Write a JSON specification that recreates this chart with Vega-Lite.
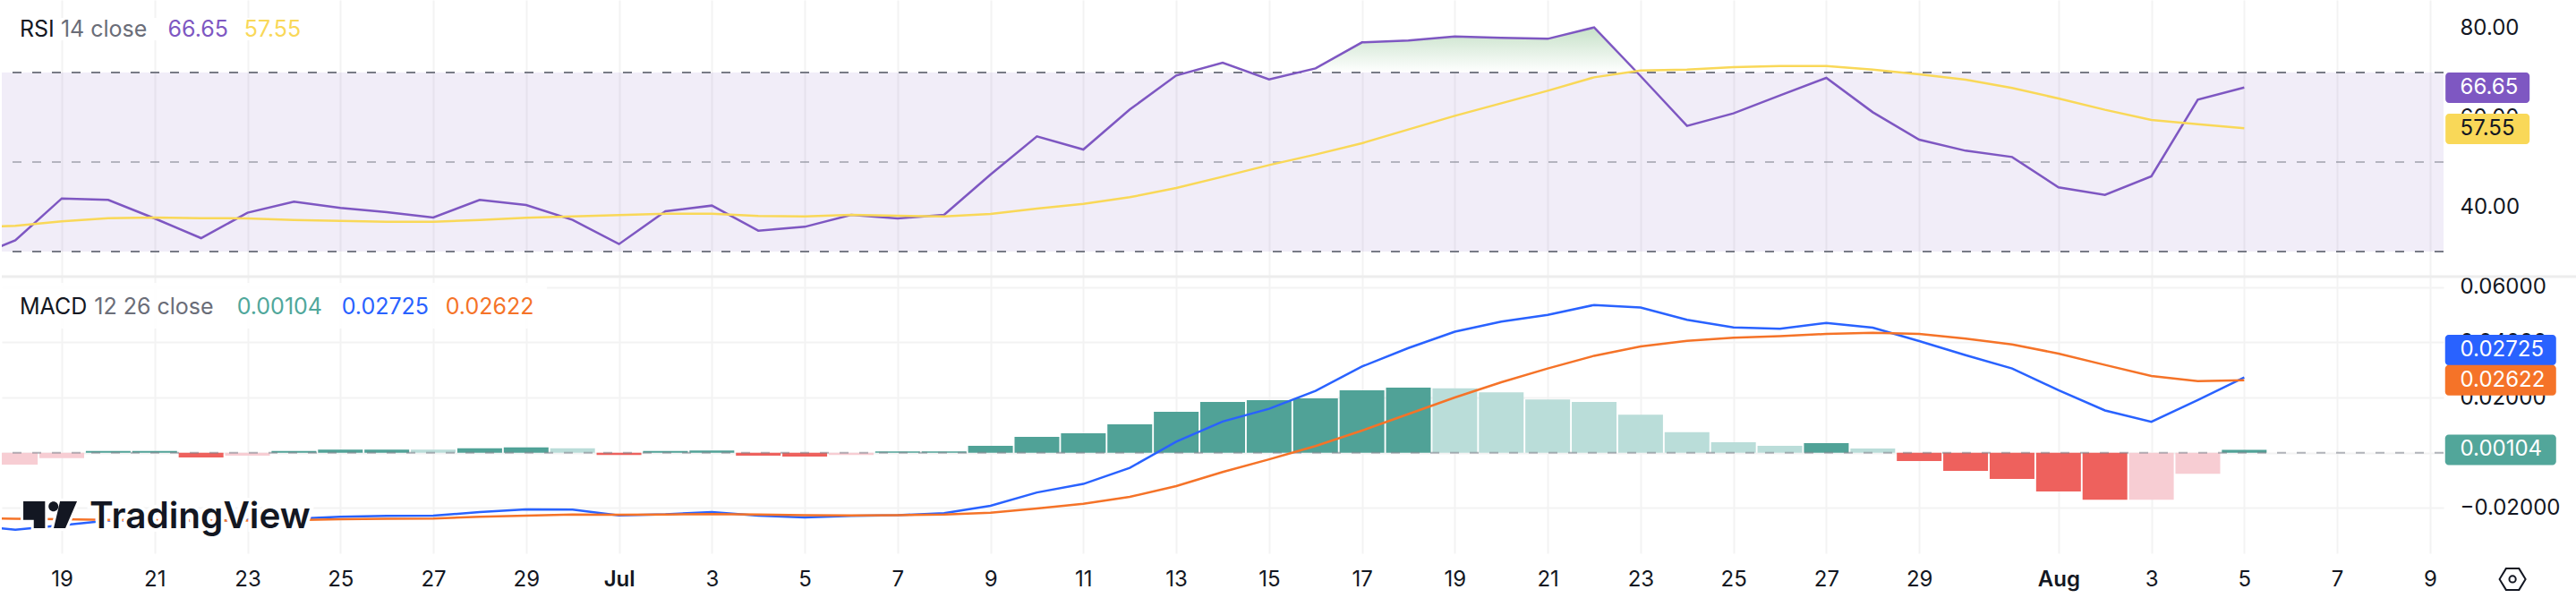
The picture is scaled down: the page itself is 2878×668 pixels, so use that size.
{
  "$schema": "https://vega.github.io/schema/vega-lite/v6.json",
  "background": "white",
  "padding": 0,
  "spacing": 0,
  "bounds": "flush",
  "resolve": {"scale": {"color": "independent"}},
  "config": {
    "view": {"stroke": null},
    "axis": {
      "domain": false,
      "ticks": false,
      "title": null,
      "gridColor": "#F3F3F3",
      "gridWidth": 2,
      "labelFont": "Inter",
      "labelFontSize": 24,
      "labelColor": "#131722",
      "labelOverlap": false
    },
    "text": {"font": "Inter", "fontSize": 24, "align": "left", "baseline": "middle"}
  },
  "datasets": {
    "daily": [
      {"date": "2024-06-17", "rsi": 28.3, "rsi_ma": 35.53, "macd": -0.0263, "signal": -0.0236},
      {"date": "2024-06-18", "rsi": 32.5, "rsi_ma": 35.73, "macd": -0.0279, "signal": -0.0239, "hist": -0.0043, "phase": "falling below"},
      {"date": "2024-06-19", "rsi": 41.87, "rsi_ma": 36.73, "macd": -0.0263, "signal": -0.0241, "hist": -0.002, "phase": "falling below"},
      {"date": "2024-06-20", "rsi": 41.53, "rsi_ma": 37.47, "macd": -0.0246, "signal": -0.0243, "hist": 0.0006, "phase": "growing above"},
      {"date": "2024-06-21", "rsi": 37.4, "rsi_ma": 37.6, "macd": -0.0246, "signal": -0.0244, "hist": 0.0006, "phase": "growing above"},
      {"date": "2024-06-22", "rsi": 33.0, "rsi_ma": 37.47, "macd": -0.0247, "signal": -0.0245, "hist": -0.0017, "phase": "growing below"},
      {"date": "2024-06-23", "rsi": 38.67, "rsi_ma": 37.4, "macd": -0.0243, "signal": -0.0246, "hist": -0.0011, "phase": "falling below"},
      {"date": "2024-06-24", "rsi": 41.13, "rsi_ma": 37.07, "macd": -0.0239, "signal": -0.0244, "hist": 0.0006, "phase": "growing above"},
      {"date": "2024-06-25", "rsi": 39.73, "rsi_ma": 36.87, "macd": -0.0232, "signal": -0.0241, "hist": 0.0011, "phase": "growing above"},
      {"date": "2024-06-26", "rsi": 38.8, "rsi_ma": 36.67, "macd": -0.0229, "signal": -0.0239, "hist": 0.0011, "phase": "growing above"},
      {"date": "2024-06-27", "rsi": 37.6, "rsi_ma": 36.67, "macd": -0.0228, "signal": -0.0238, "hist": 0.0011, "phase": "falling above"},
      {"date": "2024-06-28", "rsi": 41.53, "rsi_ma": 37.07, "macd": -0.0215, "signal": -0.0232, "hist": 0.0016, "phase": "growing above"},
      {"date": "2024-06-29", "rsi": 40.4, "rsi_ma": 37.53, "macd": -0.0205, "signal": -0.0228, "hist": 0.0019, "phase": "growing above"},
      {"date": "2024-06-30", "rsi": 37.07, "rsi_ma": 37.87, "macd": -0.0206, "signal": -0.0224, "hist": 0.0016, "phase": "falling above"},
      {"date": "2024-07-01", "rsi": 31.67, "rsi_ma": 38.13, "macd": -0.0227, "signal": -0.0225, "hist": -0.0008, "phase": "growing below"},
      {"date": "2024-07-02", "rsi": 39.0, "rsi_ma": 38.47, "macd": -0.0223, "signal": -0.0224, "hist": 0.0006, "phase": "growing above"},
      {"date": "2024-07-03", "rsi": 40.27, "rsi_ma": 38.47, "macd": -0.0215, "signal": -0.0222, "hist": 0.0008, "phase": "growing above"},
      {"date": "2024-07-04", "rsi": 34.67, "rsi_ma": 37.93, "macd": -0.0228, "signal": -0.0224, "hist": -0.0011, "phase": "growing below"},
      {"date": "2024-07-05", "rsi": 35.53, "rsi_ma": 37.87, "macd": -0.0234, "signal": -0.0226, "hist": -0.0014, "phase": "growing below"},
      {"date": "2024-07-06", "rsi": 38.2, "rsi_ma": 38.2, "macd": -0.0229, "signal": -0.0227, "hist": -0.0008, "phase": "falling below"},
      {"date": "2024-07-07", "rsi": 37.4, "rsi_ma": 38.0, "macd": -0.0226, "signal": -0.0226, "hist": 0.0005, "phase": "growing above"},
      {"date": "2024-07-08", "rsi": 38.2, "rsi_ma": 37.87, "macd": -0.0219, "signal": -0.0224, "hist": 0.0005, "phase": "growing above"},
      {"date": "2024-07-09", "rsi": 47.2, "rsi_ma": 38.4, "macd": -0.0192, "signal": -0.0217, "hist": 0.0025, "phase": "growing above"},
      {"date": "2024-07-10", "rsi": 55.73, "rsi_ma": 39.6, "macd": -0.0144, "signal": -0.0202, "hist": 0.0057, "phase": "growing above"},
      {"date": "2024-07-11", "rsi": 52.8, "rsi_ma": 40.67, "macd": -0.0113, "signal": -0.0185, "hist": 0.007, "phase": "growing above"},
      {"date": "2024-07-12", "rsi": 61.73, "rsi_ma": 42.13, "macd": -0.0055, "signal": -0.016, "hist": 0.0103, "phase": "growing above"},
      {"date": "2024-07-13", "rsi": 69.33, "rsi_ma": 44.2, "macd": 0.004, "signal": -0.0121, "hist": 0.0148, "phase": "growing above"},
      {"date": "2024-07-14", "rsi": 72.2, "rsi_ma": 46.73, "macd": 0.0113, "signal": -0.007, "hist": 0.0184, "phase": "growing above"},
      {"date": "2024-07-15", "rsi": 68.47, "rsi_ma": 49.33, "macd": 0.0159, "signal": -0.0024, "hist": 0.019, "phase": "growing above"},
      {"date": "2024-07-16", "rsi": 70.93, "rsi_ma": 51.67, "macd": 0.0224, "signal": 0.0024, "hist": 0.0197, "phase": "growing above"},
      {"date": "2024-07-17", "rsi": 76.73, "rsi_ma": 54.2, "macd": 0.0312, "signal": 0.008, "hist": 0.0226, "phase": "growing above"},
      {"date": "2024-07-18", "rsi": 77.13, "rsi_ma": 57.27, "macd": 0.0379, "signal": 0.014, "hist": 0.0236, "phase": "growing above"},
      {"date": "2024-07-19", "rsi": 78.07, "rsi_ma": 60.33, "macd": 0.0438, "signal": 0.02, "hist": 0.0233, "phase": "falling above"},
      {"date": "2024-07-20", "rsi": 77.73, "rsi_ma": 63.13, "macd": 0.0475, "signal": 0.0255, "hist": 0.0219, "phase": "falling above"},
      {"date": "2024-07-21", "rsi": 77.53, "rsi_ma": 65.93, "macd": 0.0499, "signal": 0.0305, "hist": 0.0193, "phase": "falling above"},
      {"date": "2024-07-22", "rsi": 80.07, "rsi_ma": 68.93, "macd": 0.0535, "signal": 0.0351, "hist": 0.0184, "phase": "falling above"},
      {"date": "2024-07-23", "rsi": 69.2, "rsi_ma": 70.47, "macd": 0.0526, "signal": 0.0385, "hist": 0.0138, "phase": "falling above"},
      {"date": "2024-07-24", "rsi": 58.07, "rsi_ma": 70.67, "macd": 0.0481, "signal": 0.0405, "hist": 0.0074, "phase": "falling above"},
      {"date": "2024-07-25", "rsi": 60.87, "rsi_ma": 71.2, "macd": 0.0454, "signal": 0.0416, "hist": 0.0038, "phase": "falling above"},
      {"date": "2024-07-26", "rsi": 64.87, "rsi_ma": 71.47, "macd": 0.0449, "signal": 0.0422, "hist": 0.0025, "phase": "falling above"},
      {"date": "2024-07-27", "rsi": 68.8, "rsi_ma": 71.47, "macd": 0.047, "signal": 0.043, "hist": 0.0035, "phase": "growing above"},
      {"date": "2024-07-28", "rsi": 61.13, "rsi_ma": 70.67, "macd": 0.0453, "signal": 0.0434, "hist": 0.0015, "phase": "falling above"},
      {"date": "2024-07-29", "rsi": 55.0, "rsi_ma": 69.6, "macd": 0.0404, "signal": 0.043, "hist": -0.003, "phase": "growing below"},
      {"date": "2024-07-30", "rsi": 52.53, "rsi_ma": 68.4, "macd": 0.0353, "signal": 0.0413, "hist": -0.0066, "phase": "growing below"},
      {"date": "2024-07-31", "rsi": 51.13, "rsi_ma": 66.53, "macd": 0.0305, "signal": 0.0392, "hist": -0.0095, "phase": "growing below"},
      {"date": "2024-08-01", "rsi": 44.33, "rsi_ma": 64.2, "macd": 0.0226, "signal": 0.0359, "hist": -0.014, "phase": "growing below"},
      {"date": "2024-08-02", "rsi": 42.67, "rsi_ma": 61.67, "macd": 0.0153, "signal": 0.0318, "hist": -0.017, "phase": "growing below"},
      {"date": "2024-08-03", "rsi": 46.8, "rsi_ma": 59.4, "macd": 0.0112, "signal": 0.0278, "hist": -0.017, "phase": "falling below"},
      {"date": "2024-08-04", "rsi": 63.93, "rsi_ma": 58.47, "macd": 0.0191, "signal": 0.0259, "hist": -0.0076, "phase": "falling below"},
      {"date": "2024-08-05", "rsi": 66.65, "rsi_ma": 57.55, "macd": 0.02725, "signal": 0.02622, "hist": 0.00104, "phase": "growing above"}
    ],
    "overbought": [
      {"date": "2024-07-13T05:36:00Z", "rsi": 70},
      {"date": "2024-07-14T00:00:00Z", "rsi": 72.2},
      {"date": "2024-07-14T14:09:00Z", "rsi": 70},
      {"date": "2024-07-15T14:55:00Z", "rsi": 70},
      {"date": "2024-07-16T00:00:00Z", "rsi": 70.93},
      {"date": "2024-07-17T00:00:00Z", "rsi": 76.73},
      {"date": "2024-07-18T00:00:00Z", "rsi": 77.13},
      {"date": "2024-07-19T00:00:00Z", "rsi": 78.07},
      {"date": "2024-07-20T00:00:00Z", "rsi": 77.73},
      {"date": "2024-07-21T00:00:00Z", "rsi": 77.53},
      {"date": "2024-07-22T00:00:00Z", "rsi": 80.07},
      {"date": "2024-07-22T22:14:00Z", "rsi": 70}
    ],
    "rsi_tags": [
      {"series": "rsi", "label": "66.65", "level": 66.6},
      {"series": "rsi_ma", "label": "57.55", "level": 57.4}
    ],
    "macd_tags": [
      {"series": "macd", "label": "0.02725", "level": 0.0372},
      {"series": "signal", "label": "0.02622", "level": 0.02622},
      {"series": "histogram", "label": "0.00104", "level": 0.00104}
    ]
  },
  "vconcat": [
    {
      "width": 2728,
      "height": 309,
      "data": {"values": [{}]},
      "encoding": {
        "x": {
          "type": "temporal",
          "scale": {"type": "utc", "domain": ["2024-06-17T17:00:00Z", "2024-08-09T07:00:00Z"]},
          "axis": {
            "labels": false,
            "values": ["2024-06-19", "2024-06-21", "2024-06-23", "2024-06-25", "2024-06-27", "2024-06-29", "2024-07-01", "2024-07-03", "2024-07-05", "2024-07-07", "2024-07-09", "2024-07-11", "2024-07-13", "2024-07-15", "2024-07-17", "2024-07-19", "2024-07-21", "2024-07-23", "2024-07-25", "2024-07-27", "2024-07-29", "2024-08-01", "2024-08-03", "2024-08-05", "2024-08-07", "2024-08-09"]
          }
        }
      },
      "layer": [
        {
          "mark": {"type": "rect", "color": "#7E57C2", "opacity": 0.11},
          "encoding": {
            "x": null,
            "y": {
              "datum": 70,
              "type": "quantitative",
              "scale": {"domain": [24.4, 86.2], "nice": false},
              "axis": {"orient": "right", "values": [40, 60, 80], "format": ".2f", "labelPadding": 18}
            },
            "y2": {"datum": 30}
          }
        },
        {
          "data": {"name": "overbought"},
          "mark": {
            "type": "area",
            "clip": true,
            "color": {
              "gradient": "linear",
              "x1": 0, "y1": 0, "x2": 0, "y2": 1,
              "stops": [{"offset": 0, "color": "#C6E1C8"}, {"offset": 1, "color": "#FFFFFF"}]
            }
          },
          "encoding": {
            "x": {"field": "date"},
            "y": {"field": "rsi", "type": "quantitative", "stack": null},
            "y2": {"datum": 70}
          }
        },
        {
          "mark": {"type": "rule", "color": "#787B86", "strokeWidth": 2, "strokeDash": [10, 12]},
          "encoding": {"x": null, "y": {"datum": 70, "type": "quantitative"}}
        },
        {
          "mark": {"type": "rule", "color": "#787B86", "strokeWidth": 2, "strokeDash": [10, 12], "opacity": 0.5},
          "encoding": {"x": null, "y": {"datum": 50, "type": "quantitative"}}
        },
        {
          "mark": {"type": "rule", "color": "#787B86", "strokeWidth": 2, "strokeDash": [10, 12]},
          "encoding": {"x": null, "y": {"datum": 30, "type": "quantitative"}}
        },
        {
          "data": {"name": "daily"},
          "mark": {"type": "line", "clip": true, "color": "#7E57C2", "strokeWidth": 2.5},
          "encoding": {"x": {"field": "date"}, "y": {"field": "rsi", "type": "quantitative"}}
        },
        {
          "data": {"name": "daily"},
          "mark": {"type": "line", "clip": true, "color": "#F9D858", "strokeWidth": 2.5},
          "encoding": {"x": {"field": "date"}, "y": {"field": "rsi_ma", "type": "quantitative"}}
        },
        {
          "mark": {"type": "rect", "color": "white"},
          "encoding": {
            "x": {"datum": {"year": 2024, "month": 6, "date": 17, "hours": 22, "minutes": 30, "utc": true}, "type": "temporal"},
            "x2": {"datum": {"year": 2024, "month": 6, "date": 24, "hours": 12, "minutes": 45, "utc": true}},
            "y": {"datum": 82.2, "type": "quantitative"},
            "y2": {"datum": 77.2}
          }
        },
        {
          "mark": {"type": "text", "text": "RSI", "fontSize": 25, "color": "#131722"},
          "encoding": {"x": {"datum": {"year": 2024, "month": 6, "date": 18, "hours": 2, "minutes": 15, "utc": true}, "type": "temporal"}, "y": {"datum": 79.6, "type": "quantitative"}}
        },
        {
          "mark": {"type": "text", "text": "14 close", "fontSize": 25, "color": "#6A6D78"},
          "encoding": {"x": {"datum": {"year": 2024, "month": 6, "date": 18, "hours": 23, "minutes": 30, "utc": true}, "type": "temporal"}, "y": {"datum": 79.6, "type": "quantitative"}}
        },
        {
          "mark": {"type": "text", "text": "66.65", "fontSize": 25, "color": "#7E57C2"},
          "encoding": {"x": {"datum": {"year": 2024, "month": 6, "date": 21, "hours": 6, "minutes": 50, "utc": true}, "type": "temporal"}, "y": {"datum": 79.6, "type": "quantitative"}}
        },
        {
          "mark": {"type": "text", "text": "57.55", "fontSize": 25, "color": "#F9D858"},
          "encoding": {"x": {"datum": {"year": 2024, "month": 6, "date": 22, "hours": 22, "minutes": 15, "utc": true}, "type": "temporal"}, "y": {"datum": 79.6, "type": "quantitative"}}
        },
        {
          "data": {"name": "rsi_tags"},
          "mark": {"type": "rect", "width": 94, "height": 34, "cornerRadius": 4},
          "encoding": {
            "x": {"datum": {"year": 2024, "month": 8, "date": 10, "hours": 5, "minutes": 45, "utc": true}, "type": "temporal"},
            "y": {"field": "level", "type": "quantitative"},
            "color": {
              "field": "series",
              "type": "nominal",
              "legend": null,
              "scale": {"domain": ["rsi", "rsi_ma"], "range": ["#7E57C2", "#F9D858"]}
            }
          }
        },
        {
          "data": {"name": "rsi_tags"},
          "mark": {"type": "text"},
          "encoding": {
            "x": {"datum": {"year": 2024, "month": 8, "date": 9, "hours": 15, "minutes": 36, "utc": true}, "type": "temporal"},
            "y": {"field": "level", "type": "quantitative"},
            "text": {"field": "label"},
            "color": {"condition": {"test": "datum.series === 'rsi_ma'", "value": "#131722"}, "value": "#FFFFFF"}
          }
        }
      ]
    },
    {
      "width": 2728,
      "height": 309,
      "data": {"values": [{}]},
      "encoding": {
        "x": {
          "type": "temporal",
          "scale": {"type": "utc", "padding": 0, "domain": ["2024-06-17T17:00:00Z", "2024-08-09T07:00:00Z"]},
          "axis": {
            "labelPadding": 17,
            "labelExpr": "utcdate(datum.value) == 1 ? utcFormat(datum.value, '%b') : utcFormat(datum.value, '%-d')",
            "labelFontWeight": {"condition": {"test": "utcdate(datum.value) == 1", "value": 600}, "value": 400},
            "values": ["2024-06-19", "2024-06-21", "2024-06-23", "2024-06-25", "2024-06-27", "2024-06-29", "2024-07-01", "2024-07-03", "2024-07-05", "2024-07-07", "2024-07-09", "2024-07-11", "2024-07-13", "2024-07-15", "2024-07-17", "2024-07-19", "2024-07-21", "2024-07-23", "2024-07-25", "2024-07-27", "2024-07-29", "2024-08-01", "2024-08-03", "2024-08-05", "2024-08-07", "2024-08-09"]
          }
        }
      },
      "layer": [
        {
          "data": {"name": "daily"},
          "mark": {"type": "bar", "size": 50, "clip": true},
          "encoding": {
            "x": {"field": "date"},
            "y": {
              "field": "hist",
              "type": "quantitative",
              "stack": null,
              "scale": {"domain": [-0.0364, 0.06376], "nice": false},
              "axis": {"orient": "right", "values": [0.06, 0.04, 0.02, 0, -0.02], "format": ".5f", "labelPadding": 18}
            },
            "color": {
              "field": "phase",
              "type": "nominal",
              "legend": null,
              "scale": {
                "domain": ["growing above", "falling above", "growing below", "falling below", "macd", "signal", "histogram"],
                "range": ["#50A297", "#BADDD9", "#EE615D", "#F7CDD3", "#2962FF", "#F57328", "#52A69A"]
              }
            }
          }
        },
        {
          "mark": {"type": "rule", "color": "#787B86", "opacity": 0.55, "strokeWidth": 2, "strokeDash": [10, 12]},
          "encoding": {"x": null, "y": {"datum": 0, "type": "quantitative"}}
        },
        {
          "data": {"name": "daily"},
          "mark": {"type": "line", "clip": true, "color": "#2962FF", "strokeWidth": 2.5},
          "encoding": {"x": {"field": "date"}, "y": {"field": "macd", "type": "quantitative"}}
        },
        {
          "data": {"name": "daily"},
          "mark": {"type": "line", "clip": true, "color": "#F57328", "strokeWidth": 2.5},
          "encoding": {"x": {"field": "date"}, "y": {"field": "signal", "type": "quantitative"}}
        },
        {
          "mark": {"type": "rect", "color": "white", "opacity": 0.85},
          "encoding": {
            "x": {"datum": {"year": 2024, "month": 6, "date": 17, "hours": 17, "utc": true}, "type": "temporal"},
            "x2": {"datum": {"year": 2024, "month": 6, "date": 29, "hours": 10, "minutes": 48, "utc": true}},
            "y": {"datum": 0.0615, "type": "quantitative"},
            "y2": {"datum": 0.045}
          }
        },
        {
          "mark": {"type": "rule", "color": "#EDEDED", "strokeWidth": 3},
          "encoding": {
            "x": {"datum": {"year": 2024, "month": 6, "date": 17, "hours": 17, "utc": true}, "type": "temporal"},
            "x2": {"datum": {"year": 2024, "month": 8, "date": 12, "hours": 4, "utc": true}},
            "y": {"datum": 0.06376, "type": "quantitative"}
          }
        },
        {
          "mark": {"type": "text", "text": "MACD", "fontSize": 25, "color": "#131722"},
          "encoding": {"x": {"datum": {"year": 2024, "month": 6, "date": 18, "hours": 2, "minutes": 15, "utc": true}, "type": "temporal"}, "y": {"datum": 0.05264, "type": "quantitative"}}
        },
        {
          "mark": {"type": "text", "text": "12 26 close", "fontSize": 25, "color": "#6A6D78"},
          "encoding": {"x": {"datum": {"year": 2024, "month": 6, "date": 19, "hours": 16, "minutes": 45, "utc": true}, "type": "temporal"}, "y": {"datum": 0.05264, "type": "quantitative"}}
        },
        {
          "mark": {"type": "text", "text": "0.00104", "fontSize": 25, "color": "#4FA79B"},
          "encoding": {"x": {"datum": {"year": 2024, "month": 6, "date": 22, "hours": 18, "minutes": 30, "utc": true}, "type": "temporal"}, "y": {"datum": 0.05264, "type": "quantitative"}}
        },
        {
          "mark": {"type": "text", "text": "0.02725", "fontSize": 25, "color": "#2962FF"},
          "encoding": {"x": {"datum": {"year": 2024, "month": 6, "date": 25, "hours": 0, "minutes": 40, "utc": true}, "type": "temporal"}, "y": {"datum": 0.05264, "type": "quantitative"}}
        },
        {
          "mark": {"type": "text", "text": "0.02622", "fontSize": 25, "color": "#F57328"},
          "encoding": {"x": {"datum": {"year": 2024, "month": 6, "date": 27, "hours": 6, "minutes": 20, "utc": true}, "type": "temporal"}, "y": {"datum": 0.05264, "type": "quantitative"}}
        },
        {
          "mark": {"type": "point", "filled": true, "size": 3600, "color": "white", "opacity": 1, "stroke": "white", "strokeWidth": 6, "shape": "M-1,-0.5 H-0.19 V0.5 H-0.61 V0.19 H-1 Z M1,-0.5 H0.367 L0.133,0.5 H0.567 Z M0.306,-0.31 A0.183,0.183 0 1 1 -0.06,-0.31 A0.183,0.183 0 1 1 0.306,-0.31 Z"},
          "encoding": {"x": {"datum": {"year": 2024, "month": 6, "date": 18, "hours": 18, "utc": true}, "type": "temporal"}, "y": {"datum": -0.02246, "type": "quantitative"}}
        },
        {
          "mark": {"type": "point", "filled": true, "size": 3600, "color": "#131722", "opacity": 1, "shape": "M-1,-0.5 H-0.19 V0.5 H-0.61 V0.19 H-1 Z M1,-0.5 H0.367 L0.133,0.5 H0.567 Z M0.306,-0.31 A0.183,0.183 0 1 1 -0.06,-0.31 A0.183,0.183 0 1 1 0.306,-0.31 Z"},
          "encoding": {"x": {"datum": {"year": 2024, "month": 6, "date": 18, "hours": 18, "utc": true}, "type": "temporal"}, "y": {"datum": -0.02246, "type": "quantitative"}}
        },
        {
          "mark": {"type": "text", "text": "TradingView", "fontSize": 40.5, "fontWeight": 600, "color": "white", "stroke": "white", "strokeWidth": 8},
          "encoding": {"x": {"datum": {"year": 2024, "month": 6, "date": 19, "hours": 14, "minutes": 20, "utc": true}, "type": "temporal"}, "y": {"datum": -0.02344, "type": "quantitative"}}
        },
        {
          "mark": {"type": "text", "text": "TradingView", "fontSize": 40.5, "fontWeight": 600, "color": "#131722"},
          "encoding": {"x": {"datum": {"year": 2024, "month": 6, "date": 19, "hours": 14, "minutes": 20, "utc": true}, "type": "temporal"}, "y": {"datum": -0.02344, "type": "quantitative"}}
        },
        {
          "data": {"name": "macd_tags"},
          "mark": {"type": "rect", "width": 124, "height": 34, "cornerRadius": 4},
          "encoding": {
            "x": {"datum": {"year": 2024, "month": 8, "date": 10, "hours": 12, "minutes": 30, "utc": true}, "type": "temporal"},
            "y": {"field": "level", "type": "quantitative"},
            "color": {"field": "series", "type": "nominal", "legend": null}
          }
        },
        {
          "data": {"name": "macd_tags"},
          "mark": {"type": "text", "color": "#FFFFFF"},
          "encoding": {
            "x": {"datum": {"year": 2024, "month": 8, "date": 9, "hours": 15, "minutes": 36, "utc": true}, "type": "temporal"},
            "y": {"field": "level", "type": "quantitative"},
            "text": {"field": "label"}
          }
        },
        {
          "mark": {"type": "point", "size": 841, "color": "#131722", "strokeWidth": 2, "opacity": 1, "shape": "M-1,0 L-0.5,-0.82 H0.5 L1,0 L0.5,0.82 H-0.5 Z M0.25,0 A0.25,0.25 0 1 1 -0.25,0 A0.25,0.25 0 1 1 0.25,0 Z"},
          "encoding": {"x": {"datum": {"year": 2024, "month": 8, "date": 10, "hours": 18, "minutes": 40, "utc": true}, "type": "temporal"}, "y": {"datum": -0.0458, "type": "quantitative"}}
        }
      ]
    }
  ]
}
